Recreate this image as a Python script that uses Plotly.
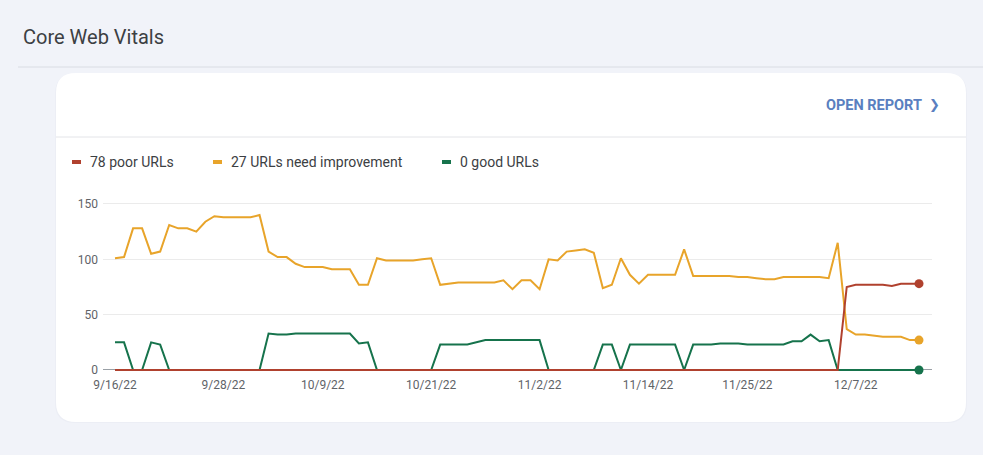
import pandas as pd
import plotly.graph_objects as go

W, H = 983, 455

start_date = "2022-09-16"
n_days = 90
dates = pd.date_range(start_date, periods=n_days, freq="D")

poor = [0] * 81 + [75, 77, 77, 77, 77, 76, 78, 78, 78]

need_improvement = [
    101, 102, 128, 128, 105, 107, 131, 128, 128, 125,
    134, 139, 138, 138, 138, 138, 140, 107, 102, 102,
    96, 93, 93, 93, 91, 91, 91, 77, 77, 101,
    99, 99, 99, 99, 100, 101, 77, 78, 79, 79,
    79, 79, 79, 81, 73, 81, 81, 73, 100, 99,
    107, 108, 109, 106, 74, 77, 101, 86, 78, 86,
    86, 86, 86, 109, 85, 85, 85, 85, 85, 84,
    84, 83, 82, 82, 84, 84, 84, 84, 84, 83,
    115, 37, 32, 32, 31, 30, 30, 30, 27, 27,
]

good = [
    25, 25, 0, 0, 25, 23, 0, 0, 0, 0,
    0, 0, 0, 0, 0, 0, 0, 33, 32, 32,
    33, 33, 33, 33, 33, 33, 33, 24, 25, 0,
    0, 0, 0, 0, 0, 0, 23, 23, 23, 23,
    25, 27, 27, 27, 27, 27, 27, 27, 0, 0,
    0, 0, 0, 0, 23, 23, 0, 23, 23, 23,
    23, 23, 23, 0, 23, 23, 23, 24, 24, 24,
    23, 23, 23, 23, 23, 26, 26, 32, 26, 27,
    0, 0, 0, 0, 0, 0, 0, 0, 0, 0,
]

series_names = ["78 poor URLs", "27 URLs need improvement", "0 good URLs"]
series_colors = ["#b0412e", "#e8a42a", "#16734c"]

tick_dates = ["2022-09-16", "2022-09-28", "2022-10-09", "2022-10-21",
              "2022-11-02", "2022-11-14", "2022-11-25", "2022-12-07"]
tick_labels = ["9/16/22", "9/28/22", "10/9/22", "10/21/22",
               "11/2/22", "11/14/22", "11/25/22", "12/7/22"]
y_ticks = [0, 50, 100, 150]

title_text = "Core Web Vitals"
link_text = "OPEN REPORT"

FONT = "Roboto, Arial, sans-serif"
TEXT = "#3c4043"
GRAY = "#5f6368"


def px(x):
    return x / W


def py(y):
    return 1 - y / H


fig = go.Figure()

order = [2, 1, 0]
values = [poor, need_improvement, good]
for i in order:
    fig.add_trace(go.Scatter(
        x=dates, y=values[i], mode="lines",
        line=dict(color=series_colors[i], width=2),
        hoverinfo="skip", showlegend=False,
    ))
for i in order:
    fig.add_trace(go.Scatter(
        x=[dates[-1]], y=[values[i][-1]], mode="markers",
        marker=dict(color=series_colors[i], size=9),
        cliponaxis=False, hoverinfo="skip", showlegend=False,
    ))


def rounded_rect(x0, y0, x1, y1, r):
    X0, X1 = px(x0), px(x1)
    Y0, Y1 = py(y0), py(y1)
    rx, ry = r / W, r / H
    return (f"M {X0+rx},{Y0} L {X1-rx},{Y0} Q {X1},{Y0} {X1},{Y0-ry} "
            f"L {X1},{Y1+ry} Q {X1},{Y1} {X1-rx},{Y1} L {X0+rx},{Y1} "
            f"Q {X0},{Y1} {X0},{Y1+ry} L {X0},{Y0-ry} Q {X0},{Y0} {X0+rx},{Y0} Z")


shapes = [
    dict(type="path", xref="paper", yref="paper",
         path=rounded_rect(55, 74, 967, 423, 20),
         fillcolor="#eceef5", line=dict(width=0), layer="below"),
    dict(type="path", xref="paper", yref="paper",
         path=rounded_rect(56, 73, 966, 422, 20),
         fillcolor="#ffffff", line=dict(width=0), layer="below"),
    dict(type="line", xref="paper", yref="paper",
         x0=px(18), x1=1, y0=py(67), y1=py(67),
         line=dict(color="#d9dce3", width=1), layer="below"),
    dict(type="line", xref="paper", yref="paper",
         x0=px(56), x1=px(966), y0=py(137), y1=py(137),
         line=dict(color="#e3e4e8", width=1), layer="below"),
]

legend_x = [71, 212, 441]
annotations = []
for i in range(3):
    x0 = legend_x[i]
    shapes.append(dict(type="line", xref="paper", yref="paper",
                       x0=px(x0 + 1), x1=px(x0 + 10), y0=py(162), y1=py(162),
                       line=dict(color=series_colors[i], width=4)))
    annotations.append(dict(xref="paper", yref="paper", x=px(x0 + 17), y=py(162),
                            text=series_names[i], showarrow=False,
                            xanchor="left", yanchor="middle",
                            font=dict(family=FONT, size=14, color=TEXT)))

annotations.append(dict(xref="paper", yref="paper", x=px(21), y=py(37),
                        text=title_text, showarrow=False,
                        xanchor="left", yanchor="middle",
                        font=dict(family=FONT, size=20, color=TEXT)))
annotations.append(dict(xref="paper", yref="paper", x=px(824), y=py(105),
                        text=f"<b>{link_text}</b>", showarrow=False,
                        xanchor="left", yanchor="middle",
                        font=dict(family=FONT, size=14.5, color="#5a7fc0")))
annotations.append(dict(xref="paper", yref="paper", x=px(934), y=py(105),
                        text="<b>&#x276F;</b>", showarrow=False,
                        xanchor="center", yanchor="middle",
                        font=dict(family="DejaVu Sans", size=13, color="#5a7fc0")))

y_lo, y_hi = -2, 152
px_per_unit = 166 / 150
plot_bottom = 370 - y_lo * px_per_unit
plot_top = 204 - (y_hi - 150) * px_per_unit

d0 = pd.Timestamp(start_date)
px_per_day = (919 - 115) / (n_days - 1)
x_lo = d0 - pd.Timedelta(days=(115 - 103) / px_per_day)
x_hi = d0 + pd.Timedelta(days=(932 - 115) / px_per_day)

fig.update_layout(
    width=W, height=H, autosize=False,
    margin=dict(l=0, r=0, t=0, b=0, pad=0),
    paper_bgcolor="#f1f3f9",
    plot_bgcolor="rgba(0,0,0,0)",
    shapes=shapes,
    annotations=annotations,
    showlegend=False,
    xaxis=dict(
        domain=[px(103), px(932)],
        range=[x_lo, x_hi],
        tickvals=tick_dates, ticktext=tick_labels,
        showgrid=False, zeroline=False, showline=False, ticks="",
        tickfont=dict(family=FONT, size=12, color=GRAY),
        ticklabelstandoff=4, automargin=False,
    ),
    yaxis=dict(
        domain=[1 - plot_bottom / H, 1 - plot_top / H],
        range=[y_lo, y_hi],
        tickvals=y_ticks,
        showgrid=True, gridcolor="#ebebeb", gridwidth=1,
        zeroline=True, zerolinecolor="#9aa0a6", zerolinewidth=1,
        showline=False, ticks="",
        tickfont=dict(family=FONT, size=12, color=GRAY),
        ticklabelstandoff=4, automargin=False,
    ),
)

fig.write_html(
    "out.html",
    config={"responsive": False, "displayModeBar": False, "staticPlot": True},
    post_script="document.body.style.margin='0';document.body.style.overflow='hidden';",
)
